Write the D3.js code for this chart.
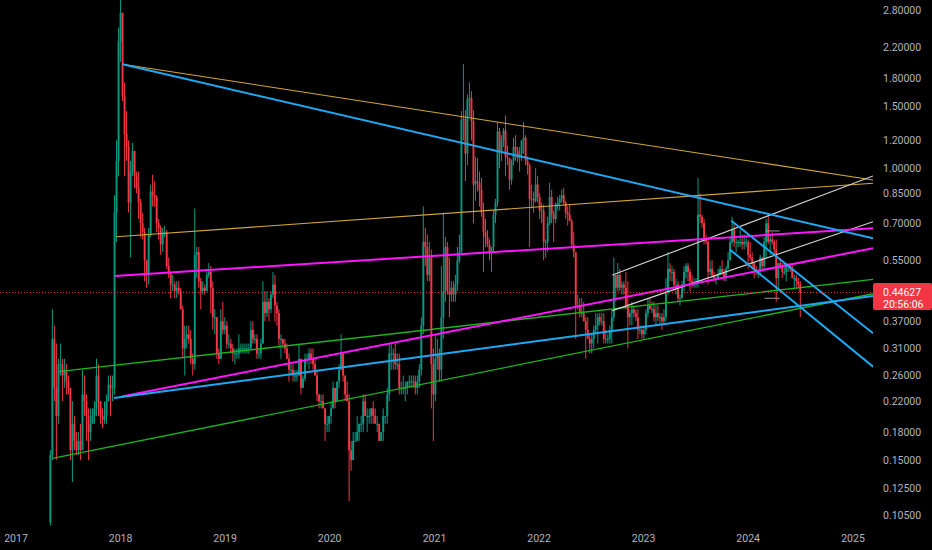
<!DOCTYPE html>
<html>
<head>
<meta charset="utf-8">
<script src="https://cdn.jsdelivr.net/npm/d3@7"></script>
<style>
  body { margin: 0; background: #000; }
  text { font-family: Roboto, 'Noto Sans', sans-serif; }
</style>
</head>
<body>
<div class="canvas"></div>
<script>
// WEEKLY CANDLES (open = previous close)
const firstWeek = '2017-05-01';
const firstOpen = 0.1;

const closes = [
  // 2017
  0.155,0.33,0.24,0.20,0.28,0.28,0.26,0.27,0.25,0.24,0.16,0.19,0.17,0.16,0.17,0.16,0.23,0.22,0.20,0.18,0.19,0.20,0.21,0.26,0.22,0.20,0.195,0.20,0.22,0.245,0.24,0.24,
  0.75,1.05,2.28,2.75,1.60,1.25,1.15,0.80,0.98,1.12,0.95,0.88,0.80,0.70,0.66,0.55,0.50,0.65,
  0.86,0.84,0.83,0.70,0.68,0.61,0.66,0.66,0.53,0.51,0.47,0.47,0.45,0.46,0.45,0.40,0.31,0.33,0.34,0.33,0.29,0.28,
  0.57,0.58,0.48,0.45,0.46,0.45,0.50,0.51,0.46,0.38,0.38,0.30,0.29,0.37,0.35,0.36,0.32,0.32,0.31,0.30,0.30,0.30,0.31,0.31,0.31,0.31,0.31,0.31,
  // 2019 Q2-Q4
  0.35,0.33,0.33,0.30,0.30,0.32,0.42,0.39,0.42,0.40,0.44,0.47,0.41,0.39,0.33,0.33,0.32,0.31,0.29,0.27,
  0.27,0.26,0.26,0.26,0.29,0.24,0.255,0.29,0.29,0.30,0.29,0.28,0.26,0.23,0.22,0.22,0.21,0.19,0.19,0.20,
  // 2020
  0.21,0.24,0.22,0.25,0.27,0.30,0.26,0.23,0.22,0.16,0.15,0.17,0.17,0.18,0.19,0.19,0.22,0.20,0.20,0.20,
  0.21,0.20,0.19,0.19,0.17,0.18,0.20,0.20,0.23,0.30,0.30,0.30,0.28,0.28,0.24,0.24,0.24,0.24,0.25,0.25,
  0.25,0.25,0.24,0.25,0.27,0.36,0.62,0.60,0.50,0.56,0.28,0.23,
  // 2021
  0.29,0.30,0.27,0.38,0.45,0.60,0.45,0.44,0.46,0.44,0.47,0.55,0.58,1.37,1.38,1.10,1.57,1.58,1.36,0.90,
  0.92,0.91,0.87,0.75,0.66,0.64,0.61,0.58,0.60,0.74,0.80,1.27,1.12,1.20,1.28,1.08,1.07,0.93,1.05,1.15,
  1.12,1.07,1.10,1.20,1.22,1.05,1.02,0.82,0.82,0.81,0.90,0.83,
  // 2022
  0.76,0.76,0.62,0.62,0.70,0.83,0.74,0.72,0.79,0.80,0.82,0.84,0.80,0.75,0.74,0.71,0.61,0.58,0.41,0.41,
  0.39,0.39,0.37,0.35,0.33,0.32,0.33,0.35,0.36,0.38,0.37,0.37,0.33,0.33,0.33,0.35,0.38,0.50,0.46,0.50,
  0.46,0.47,0.46,0.41,0.38,0.39,0.40,0.39,0.38,0.35,0.35,0.34,
  // 2023
  0.35,0.39,0.41,0.40,0.40,0.38,0.39,0.38,0.38,0.37,0.38,0.45,0.52,0.51,0.51,0.47,0.47,0.43,0.43,0.47,
  0.51,0.53,0.51,0.48,0.47,0.47,0.48,0.74,0.73,0.70,0.63,0.62,0.51,0.52,0.50,0.49,0.49,0.50,0.52,0.51,
  0.49,0.52,0.55,0.62,0.67,0.62,0.62,0.62,0.62,0.61,0.62,0.62,
  // 2024
  0.57,0.56,0.54,0.52,0.51,0.51,0.56,0.53,0.62,0.70,0.62,0.63,0.62,0.59,0.49,0.54,0.53,0.51,0.51,0.53,
  0.53,0.52,0.49,0.49,0.48,0.47,0.44627
];

const highs = [
  0.16,0.40,0.36,0.32,0.29,0.32,0.29,0.29,0.28,0.26,0.24,0.22,0.20,0.18,0.18,0.19,0.27,0.26,0.23,0.21,0.21,0.21,0.22,0.29,0.28,0.22,0.21,0.22,0.23,0.26,0.26,0.26,
  0.84,1.20,2.50,3.20,2.75,1.75,1.45,1.20,1.05,1.18,1.12,0.98,0.98,0.82,0.75,0.68,0.55,0.68,
  0.90,0.96,0.92,0.84,0.72,0.69,0.68,0.69,0.67,0.56,0.51,0.50,0.48,0.48,0.48,0.46,0.41,0.36,0.36,0.36,0.35,0.30,
  0.77,0.60,0.60,0.49,0.48,0.47,0.52,0.54,0.53,0.48,0.40,0.38,0.31,0.40,0.42,0.38,0.37,0.34,0.33,0.32,0.31,0.31,0.34,0.32,0.32,0.32,0.32,0.32,
  0.37,0.37,0.34,0.34,0.31,0.33,0.48,0.45,0.45,0.43,0.45,0.51,0.50,0.42,0.40,0.34,0.33,0.33,0.32,0.30,
  0.28,0.28,0.27,0.27,0.32,0.29,0.26,0.30,0.30,0.31,0.31,0.31,0.29,0.27,0.23,0.23,0.23,0.21,0.20,0.20,
  0.22,0.25,0.24,0.25,0.28,0.34,0.30,0.26,0.25,0.23,0.17,0.18,0.18,0.20,0.19,0.20,0.23,0.23,0.21,0.21,
  0.21,0.22,0.21,0.20,0.19,0.18,0.21,0.20,0.24,0.32,0.32,0.31,0.32,0.30,0.30,0.25,0.26,0.25,0.25,0.26,
  0.26,0.26,0.26,0.26,0.28,0.38,0.78,0.68,0.65,0.62,0.59,0.31,
  0.34,0.33,0.31,0.53,0.75,0.64,0.62,0.56,0.48,0.48,0.50,0.60,0.65,1.45,1.97,1.46,1.62,1.75,1.65,1.46,
  1.08,1.07,0.98,0.94,0.80,0.72,0.67,0.63,0.60,0.76,0.82,1.35,1.30,1.24,1.30,1.41,1.16,1.07,1.06,1.22,
  1.24,1.15,1.15,1.20,1.35,1.24,1.08,1.03,0.90,0.86,1.00,0.95,
  0.85,0.80,0.79,0.63,0.73,0.91,0.87,0.76,0.80,0.83,0.84,0.87,0.88,0.81,0.78,0.79,0.72,0.66,0.58,0.44,
  0.43,0.43,0.42,0.38,0.38,0.34,0.34,0.36,0.39,0.39,0.39,0.39,0.39,0.35,0.34,0.36,0.40,0.56,0.50,0.54,
  0.52,0.48,0.48,0.51,0.48,0.40,0.42,0.41,0.40,0.40,0.36,0.36,
  0.36,0.40,0.43,0.43,0.42,0.42,0.41,0.41,0.39,0.39,0.40,0.49,0.58,0.54,0.53,0.52,0.49,0.48,0.44,0.48,
  0.53,0.54,0.54,0.52,0.50,0.49,0.49,0.94,0.85,0.74,0.72,0.65,0.64,0.55,0.55,0.51,0.50,0.52,0.53,0.55,
  0.52,0.53,0.58,0.64,0.73,0.70,0.64,0.63,0.67,0.65,0.65,0.64,
  0.63,0.62,0.58,0.54,0.53,0.52,0.57,0.56,0.64,0.72,0.74,0.65,0.66,0.63,0.63,0.54,0.56,0.54,0.54,0.54,
  0.54,0.54,0.53,0.50,0.50,0.49,0.48
];

const lows = [
  0.098,0.15,0.22,0.15,0.19,0.26,0.22,0.24,0.23,0.23,0.15,0.13,0.16,0.155,0.155,0.15,0.16,0.20,0.17,0.15,0.17,0.19,0.19,0.20,0.20,0.19,0.185,0.19,0.19,0.22,0.20,0.22,
  0.23,0.62,0.95,2.00,1.55,0.95,1.05,0.75,0.56,0.95,0.88,0.85,0.72,0.64,0.63,0.48,0.46,0.47,
  0.64,0.78,0.78,0.66,0.63,0.57,0.58,0.64,0.52,0.49,0.43,0.45,0.43,0.43,0.44,0.40,0.29,0.26,0.31,0.32,0.28,0.26,
  0.27,0.49,0.46,0.40,0.44,0.44,0.45,0.49,0.39,0.35,0.34,0.29,0.28,0.29,0.34,0.34,0.31,0.31,0.30,0.285,0.28,0.29,0.29,0.30,0.30,0.30,0.30,0.30,
  0.31,0.32,0.32,0.29,0.29,0.29,0.32,0.37,0.38,0.37,0.39,0.43,0.37,0.36,0.31,0.29,0.31,0.30,0.29,0.25,
  0.26,0.25,0.25,0.25,0.26,0.23,0.24,0.25,0.28,0.27,0.28,0.27,0.26,0.22,0.21,0.21,0.21,0.17,0.18,0.18,
  0.19,0.21,0.21,0.22,0.24,0.27,0.25,0.22,0.22,0.115,0.14,0.15,0.17,0.17,0.17,0.18,0.18,0.20,0.18,0.19,
  0.19,0.19,0.19,0.18,0.17,0.17,0.17,0.19,0.19,0.22,0.27,0.27,0.27,0.27,0.23,0.23,0.23,0.22,0.23,0.24,
  0.24,0.24,0.23,0.23,0.24,0.26,0.34,0.53,0.48,0.48,0.21,0.17,
  0.22,0.27,0.25,0.25,0.33,0.42,0.44,0.38,0.42,0.42,0.42,0.45,0.54,0.57,1.20,0.92,1.02,1.40,1.20,0.70,
  0.81,0.86,0.78,0.73,0.51,0.60,0.60,0.55,0.51,0.58,0.70,0.78,1.00,1.05,1.15,0.95,1.02,0.87,0.90,1.02,
  1.05,1.04,0.98,1.05,1.10,1.02,0.96,0.60,0.77,0.75,0.80,0.80,
  0.72,0.70,0.55,0.56,0.58,0.69,0.70,0.62,0.70,0.76,0.76,0.80,0.79,0.72,0.69,0.71,0.60,0.56,0.33,0.40,
  0.38,0.38,0.37,0.29,0.33,0.30,0.30,0.31,0.34,0.32,0.36,0.36,0.32,0.32,0.32,0.32,0.32,0.37,0.42,0.45,
  0.45,0.44,0.44,0.40,0.31,0.36,0.36,0.38,0.37,0.33,0.34,0.33,
  0.33,0.34,0.38,0.40,0.39,0.37,0.36,0.37,0.36,0.35,0.36,0.37,0.44,0.48,0.48,0.45,0.44,0.42,0.41,0.43,
  0.45,0.49,0.48,0.45,0.46,0.46,0.46,0.46,0.70,0.68,0.61,0.61,0.47,0.50,0.49,0.48,0.47,0.49,0.50,0.50,
  0.48,0.48,0.52,0.55,0.61,0.60,0.58,0.60,0.60,0.59,0.59,0.60,
  0.52,0.55,0.52,0.49,0.50,0.49,0.50,0.52,0.52,0.56,0.61,0.57,0.61,0.57,0.42,0.46,0.52,0.49,0.50,0.48,
  0.51,0.51,0.49,0.46,0.46,0.46,0.38
];

const lastPrice = 0.44627;
const countdown = '20:56:06';

// AXIS LABELS
const priceTicks = [2.8, 2.2, 1.8, 1.5, 1.2, 1.0, 0.85, 0.7, 0.55, 0.37, 0.31, 0.26, 0.22, 0.18, 0.15, 0.125, 0.105];
const yearTicks = [2017, 2018, 2019, 2020, 2021, 2022, 2023, 2024, 2025];

// DRAWN TREND LINES [date, price]
const yellowFall = [['2018-01-08', 1.968], ['2025-03-12', 0.927]];
const yellowRise = [['2017-12-16', 0.641], ['2025-03-12', 0.908]];
const blueFall = [['2018-01-08', 1.968], ['2025-03-12', 0.635]];
const blueRise = [['2017-12-09', 0.2247], ['2025-03-12', 0.436]];
const magentaTop = [['2017-12-12', 0.497], ['2025-03-12', 0.677]];
const magentaLow = [['2018-01-05', 0.227], ['2025-03-12', 0.595]];
const greenTop = [['2017-05-28', 0.2667], ['2025-03-12', 0.4856]];
const greenLow = [['2017-05-08', 0.1518], ['2025-03-12', 0.4425]];
const channelTop = [['2023-11-03', 0.7117], ['2025-03-12', 0.3423]];
const channelLow = [['2023-10-28', 0.591], ['2025-03-12', 0.2755]];
const whiteTop = [['2022-09-14', 0.5], ['2025-03-12', 0.9518]];
const whiteLow = [['2022-09-14', 0.3965], ['2025-03-12', 0.7071]];
const markLow = [['2024-02-27', 0.4297], ['2024-04-20', 0.4297]];
const markHigh = [['2024-03-02', 0.6656], ['2024-04-20', 0.6656]];

const dims = { width: 932, height: 550, plotW: 873, plotH: 528 };
const colors = { up: '#089981', down: '#f23645', text: '#b2b5be' };

const parse = d3.utcParse('%Y-%m-%d');

const x = d3
  .scaleUtc()
  .domain([new Date(Date.UTC(2017, 0, 1)), new Date(Date.UTC(2025, 0, 1))])
  .range([16, 853]);

const y = d3.scaleLog().domain([0.105, 2.8]).range([515, 10]);

const svg = d3
  .select('.canvas')
  .append('svg')
  .attr('width', dims.width)
  .attr('height', dims.height)
  .style('display', 'block')
  .style('background', '#000');

svg
  .append('clipPath')
  .attr('id', 'plot-clip')
  .append('rect')
  .attr('width', dims.plotW)
  .attr('height', dims.plotH);

const plot = svg.append('g').attr('clip-path', 'url(#plot-clip)');

// BUILD CANDLES
const start = parse(firstWeek);
const candles = closes.map((c, i) => {
  const o = i ? closes[i - 1] : firstOpen;
  return {
    date: d3.utcDay.offset(start, i * 7),
    o,
    c,
    h: Math.max(highs[i], o, c),
    l: Math.min(lows[i], o, c)
  };
});

const candle = plot
  .append('g')
  .selectAll('g')
  .data(candles)
  .enter()
  .append('g')
  .attr('fill', (d) => (d.c >= d.o ? colors.up : colors.down))
  .attr('stroke', (d) => (d.c >= d.o ? colors.up : colors.down));

candle
  .append('line')
  .attr('x1', (d) => x(d.date))
  .attr('x2', (d) => x(d.date))
  .attr('y1', (d) => y(d.h))
  .attr('y2', (d) => y(d.l))
  .attr('stroke-width', 1);

candle
  .append('rect')
  .attr('stroke', 'none')
  .attr('x', (d) => x(d.date) - 0.95)
  .attr('width', 1.9)
  .attr('y', (d) => y(Math.max(d.o, d.c)))
  .attr('height', (d) => Math.max(1, Math.abs(y(d.o) - y(d.c))));

// TREND LINES
const line = d3
  .line()
  .x((d) => x(parse(d[0])))
  .y((d) => y(d[1]));

const drawings = [
  { pts: greenTop, stroke: '#1eb31e', width: 1.3 },
  { pts: greenLow, stroke: '#1eb31e', width: 1.3 },
  { pts: yellowFall, stroke: '#d2a836', width: 1.1 },
  { pts: yellowRise, stroke: '#d2a836', width: 1.1 },
  { pts: whiteTop, stroke: '#d8d8d8', width: 1.1 },
  { pts: whiteLow, stroke: '#d8d8d8', width: 1.1 },
  { pts: magentaTop, stroke: '#ff14ff', width: 2 },
  { pts: magentaLow, stroke: '#ff14ff', width: 2 },
  { pts: blueFall, stroke: '#1fa8f2', width: 2 },
  { pts: blueRise, stroke: '#1fa8f2', width: 2 },
  { pts: channelTop, stroke: '#1fa8f2', width: 2 },
  { pts: channelLow, stroke: '#1fa8f2', width: 2 },
  { pts: markLow, stroke: '#9a9a9a', width: 1 },
  { pts: markHigh, stroke: '#9a9a9a', width: 1 }
];

plot
  .append('g')
  .selectAll('path')
  .data(drawings)
  .enter()
  .append('path')
  .attr('fill', 'none')
  .attr('stroke', (d) => d.stroke)
  .attr('stroke-width', (d) => d.width)
  .attr('d', (d) => line(d.pts));

// LAST PRICE LINE
plot
  .append('line')
  .attr('x1', 0)
  .attr('x2', dims.plotW)
  .attr('y1', y(lastPrice))
  .attr('y2', y(lastPrice))
  .attr('stroke', colors.down)
  .attr('stroke-width', 1)
  .attr('stroke-dasharray', '1,2');

// PRICE AXIS
svg
  .append('g')
  .selectAll('text')
  .data(priceTicks)
  .enter()
  .append('text')
  .attr('x', 883)
  .attr('y', (d) => y(d))
  .attr('dy', '0.35em')
  .attr('fill', colors.text)
  .attr('font-size', 10.5)
  .text((d) => d.toFixed(5));

// LAST PRICE LABEL
const tag = svg.append('g').attr('transform', `translate(873, ${y(lastPrice) - 9.5})`);
tag.append('rect').attr('width', 59).attr('height', 27).attr('rx', 2).attr('fill', colors.down);
tag
  .append('text')
  .attr('x', 10)
  .attr('y', 9)
  .attr('dy', '0.35em')
  .attr('fill', '#fff')
  .attr('font-size', 10.5)
  .text(lastPrice.toFixed(5));
tag
  .append('text')
  .attr('x', 10)
  .attr('y', 21)
  .attr('dy', '0.35em')
  .attr('fill', '#fff')
  .attr('font-size', 10.5)
  .text(countdown);

// TIME AXIS
svg
  .append('g')
  .selectAll('text')
  .data(yearTicks)
  .enter()
  .append('text')
  .attr('x', (d) => x(new Date(Date.UTC(d, 0, 1))))
  .attr('y', 538)
  .attr('dy', '0.35em')
  .attr('text-anchor', 'middle')
  .attr('fill', colors.text)
  .attr('font-size', 10.5)
  .text((d) => d);
</script>
</body>
</html>
